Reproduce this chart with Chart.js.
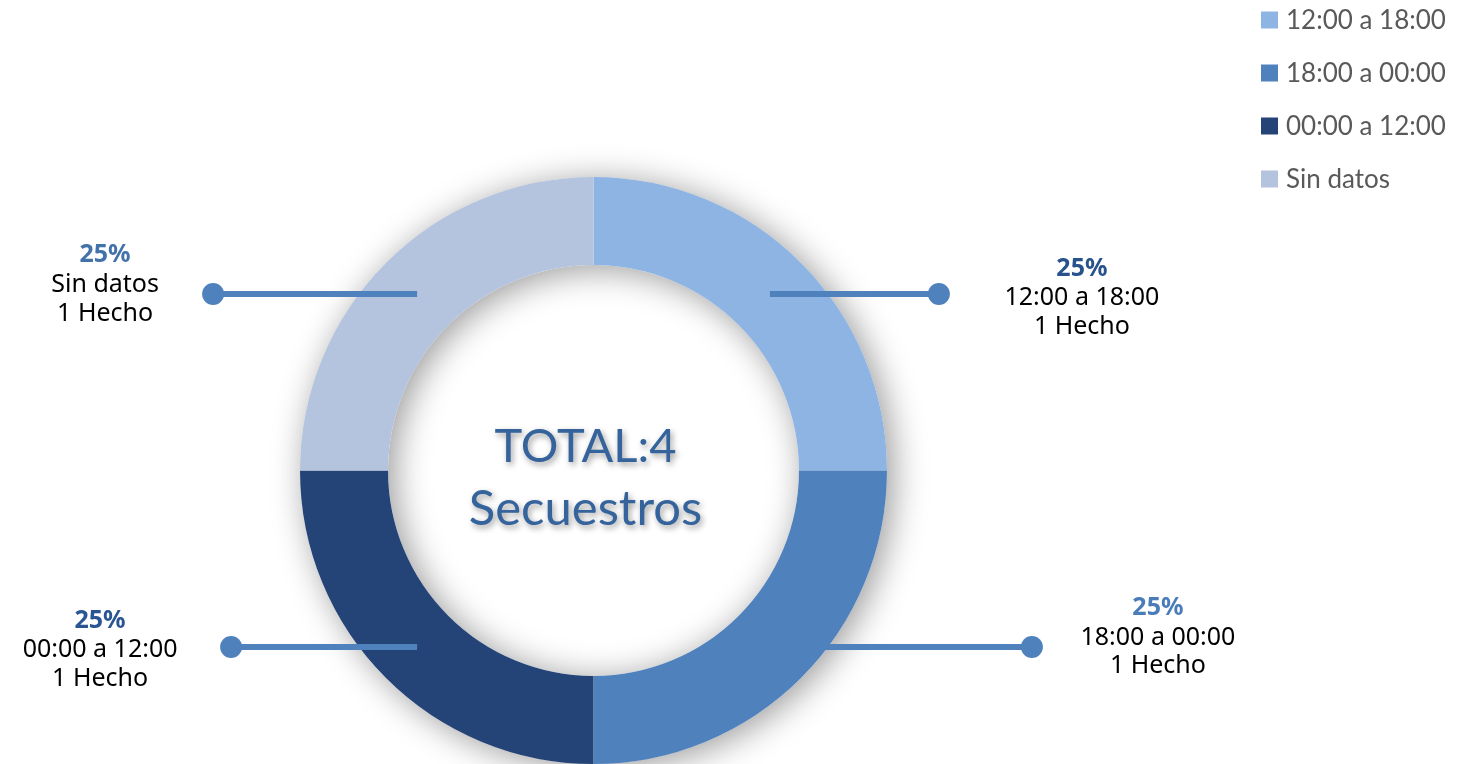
<!DOCTYPE html>
<html>
<head>
<meta charset="utf-8">
<script src="https://cdn.jsdelivr.net/npm/chart.js@4/dist/chart.umd.min.js"></script>
<style>
  html, body { margin: 0; padding: 0; background: #fff; overflow: hidden; }
  #wrap { width: 1460px; height: 764px; position: relative; }
</style>
</head>
<body>
<div id="wrap"><canvas id="myChart"></canvas></div>
<script>
// data
const categories = ['12:00 a 18:00', '18:00 a 00:00', '00:00 a 12:00', 'Sin datos'];
const hechos = [1, 1, 1, 1];
const subject = 'Secuestros';

// styles
const sliceColors = ['#8EB4E3', '#4F81BD', '#244478', '#B4C3DE'];
const pctColors = ['#28528C', '#4A7CB9', '#2A5593', '#4272AA'];
const dotOffset = [169, 262, 186, 204];          // slice midpoint -> dot, horizontal
const textDx = [143, 126, -131, -108];            // dot -> text centre
const textDy = [[-18, 11, 40], [-32, -2, 26], [-19, 10, 39], [-32, -2, 27]];
const lineBehind = [false, true, false, false];

const total = hechos.reduce((a, b) => a + b, 0);

function anchors(chart) {
  const meta = chart.getDatasetMeta(0);
  return meta.data.map((arc) => {
    const p = arc.getProps(['x', 'y', 'startAngle', 'endAngle', 'innerRadius', 'outerRadius'], true);
    const mid = (p.startAngle + p.endAngle) / 2;
    const r = (p.innerRadius + p.outerRadius) / 2;
    return { x: p.x + Math.cos(mid) * r, y: p.y + Math.sin(mid) * r, dir: Math.cos(mid) >= 0 ? 1 : -1 };
  });
}

function drawLeader(ctx, a, i) {
  const dx = a.x + a.dir * dotOffset[i];
  ctx.save();
  ctx.strokeStyle = '#4F81BD';
  ctx.fillStyle = '#4F81BD';
  ctx.lineWidth = 6;
  ctx.beginPath();
  ctx.moveTo(a.x, a.y);
  ctx.lineTo(dx, a.y);
  ctx.stroke();
  ctx.beginPath();
  ctx.arc(dx, a.y, 11, 0, Math.PI * 2);
  ctx.fill();
  ctx.restore();
}

// soft shadow under the ring
const ringShadow = {
  id: 'ringShadow',
  beforeDatasetsDraw(chart) {
    const { ctx } = chart;
    const arc = chart.getDatasetMeta(0).data[0];
    if (!arc) return;
    const p = arc.getProps(['x', 'y', 'innerRadius', 'outerRadius'], true);
    ctx.save();
    ctx.shadowColor = 'rgba(0,0,0,0.4)';
    ctx.shadowBlur = 34;
    ctx.shadowOffsetX = 6;
    ctx.shadowOffsetY = 4;
    ctx.fillStyle = '#ffffff';
    ctx.beginPath();
    ctx.arc(p.x, p.y, p.outerRadius, 0, Math.PI * 2);
    ctx.arc(p.x, p.y, p.innerRadius, 0, Math.PI * 2, true);
    ctx.fill('evenodd');
    ctx.restore();
    anchors(chart).forEach((a, i) => { if (lineBehind[i]) drawLeader(ctx, a, i); });
  }
};

// call-outs, centre text and legend
const callouts = {
  id: 'callouts',
  afterDatasetsDraw(chart) {
    const { ctx } = chart;
    const list = anchors(chart);
    list.forEach((a, i) => {
      if (!lineBehind[i]) drawLeader(ctx, a, i);
      const tx = a.x + a.dir * dotOffset[i] + textDx[i];
      const pct = Math.round(hechos[i] / total * 100) + '%';
      const hecho = hechos[i] + (hechos[i] === 1 ? ' Hecho' : ' Hechos');
      ctx.save();
      ctx.textAlign = 'center';
      ctx.textBaseline = 'alphabetic';
      ctx.font = 'bold 25px "Noto Sans"';
      ctx.fillStyle = pctColors[i];
      ctx.fillText(pct, tx, a.y + textDy[i][0]);
      ctx.font = '25px "Noto Sans"';
      ctx.fillStyle = '#000000';
      ctx.fillText(categories[i], tx, a.y + textDy[i][1]);
      ctx.fillText(hecho, tx, a.y + textDy[i][2]);
      ctx.restore();
    });

    // centre text
    const arc = chart.getDatasetMeta(0).data[0];
    const cx = arc.x - 8, cy = arc.y;
    ctx.save();
    ctx.textAlign = 'center';
    ctx.textBaseline = 'alphabetic';
    ctx.fillStyle = '#35639C';
    ctx.shadowColor = 'rgba(0,0,0,0.4)';
    ctx.shadowBlur = 6;
    ctx.shadowOffsetX = 2;
    ctx.shadowOffsetY = 3;
    ctx.font = '47px Lato';
    ctx.fillText('TOTAL:' + total, cx, cy - 9);
    ctx.font = '49px Lato';
    ctx.fillText(subject, cx, cy + 54);
    ctx.restore();

    // legend
    ctx.save();
    ctx.font = '26px Lato';
    ctx.textBaseline = 'middle';
    ctx.textAlign = 'left';
    categories.forEach((c, i) => {
      const y = 20 + i * 53;
      ctx.fillStyle = sliceColors[i];
      ctx.fillRect(1261, y - 8.5, 17, 17);
      ctx.fillStyle = '#595959';
      ctx.fillText(c, 1286, y + 1);
    });
    ctx.restore();
  }
};

const data = {
  labels: categories,
  datasets: [{
    data: hechos,
    backgroundColor: sliceColors,
    borderWidth: 0,
    hoverOffset: 0
  }]
};

const config = {
  type: 'doughnut',
  data,
  options: {
    responsive: true,
    maintainAspectRatio: false,
    animation: false,
    events: [],
    cutout: '70%',
    layout: { padding: { top: 177, bottom: 0, left: 300, right: 573 } },
    plugins: {
      legend: { display: false },
      tooltip: { enabled: false }
    }
  },
  plugins: [ringShadow, callouts]
};

new Chart(document.getElementById('myChart').getContext('2d'), config);
</script>
</body>
</html>
